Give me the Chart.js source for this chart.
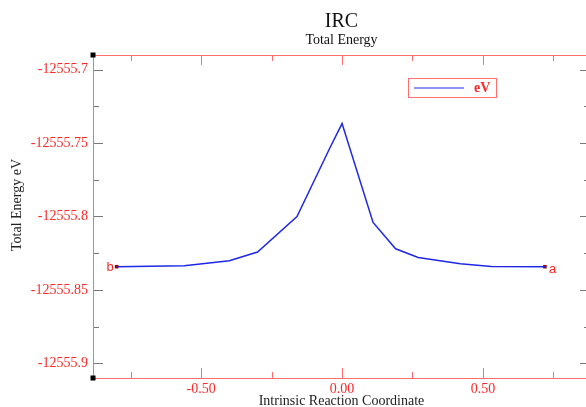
<!DOCTYPE html>
<html>
<head>
<meta charset="utf-8">
<script src="https://cdn.jsdelivr.net/npm/chart.js@4/dist/chart.umd.min.js"></script>
<style>
  html, body { margin: 0; padding: 0; background: #fff; overflow: hidden; }
  canvas { display: block; }
</style>
</head>
<body>
<canvas id="ircChart" width="600" height="407"></canvas>
<script>
// IRC path
const irc = [-0.80, -0.56, -0.40, -0.30, -0.16, -0.04, 0.00, 0.11, 0.19, 0.27, 0.42, 0.53, 0.72];
const energy = [-12555.8342, -12555.8336, -12555.8301, -12555.8242, -12555.8000, -12555.7520,
                -12555.7367, -12555.8040, -12555.8220, -12555.8279, -12555.8322, -12555.8340, -12555.8342];

// axis ticks
const xTicks = [-0.5, 0, 0.5];
const xTickLabels = ['-0.50', '0.00', '0.50'];
const xMinorTicks = [-0.75, -0.25, 0.25, 0.75];
const yTicks = [-12555.9, -12555.85, -12555.8, -12555.75, -12555.7];
const yTickLabels = ['-12555.9', '-12555.85', '-12555.8', '-12555.75', '-12555.7'];
const yMinorTicks = [-12555.875, -12555.825, -12555.775, -12555.725];

// end point names
const endLabels = ['b', 'a'];

const RED = 'rgb(255, 40, 40)';
const FRAME = 'rgb(255, 110, 110)';
const serif = '"Liberation Serif", "Times New Roman", serif';

const pathPoints = irc.map((x, i) => ({ x: x, y: energy[i] }));
const endPoints = [pathPoints[0], pathPoints[pathPoints.length - 1]];

// Draws the xmgrace style frame, ticks, titles and legend
const framePlugin = {
    id: 'frame',
    afterDraw(chart) {
        const ctx = chart.ctx;
        const area = chart.chartArea;
        const xs = chart.scales.x;
        const ys = chart.scales.y;
        ctx.save();

        // tick marks
        ctx.lineWidth = 1;
        ctx.strokeStyle = 'rgb(120, 120, 120)';
        ctx.beginPath();
        yTicks.forEach(v => {
            const y = Math.round(ys.getPixelForValue(v)) + 0.5;
            ctx.moveTo(area.left, y); ctx.lineTo(area.left + 10, y);
            ctx.moveTo(area.right, y); ctx.lineTo(area.right - 10, y);
        });
        yMinorTicks.forEach(v => {
            const y = Math.round(ys.getPixelForValue(v)) + 0.5;
            ctx.moveTo(area.left, y); ctx.lineTo(area.left + 6, y);
            ctx.moveTo(area.right, y); ctx.lineTo(area.right - 6, y);
        });
        ctx.stroke();

        ctx.strokeStyle = FRAME;
        ctx.beginPath();
        xTicks.forEach(v => {
            const x = Math.round(xs.getPixelForValue(v)) + 0.5;
            ctx.moveTo(x, area.top); ctx.lineTo(x, area.top + 10);
            ctx.moveTo(x, area.bottom); ctx.lineTo(x, area.bottom - 10);
        });
        xMinorTicks.forEach(v => {
            const x = Math.round(xs.getPixelForValue(v)) + 0.5;
            ctx.moveTo(x, area.top); ctx.lineTo(x, area.top + 6);
            ctx.moveTo(x, area.bottom); ctx.lineTo(x, area.bottom - 6);
        });
        // frame
        const l = Math.round(area.left) + 0.5, t = Math.round(area.top) + 0.5;
        const r = Math.round(area.right) + 0.5, b = Math.round(area.bottom) + 0.5;
        ctx.rect(l, t, r - l, b - t);
        ctx.stroke();

        // black corner markers
        ctx.fillStyle = '#000';
        ctx.fillRect(l - 3, t - 3, 5, 5);
        ctx.fillRect(l - 3, b - 3, 5, 5);

        // titles
        const cx = (area.left + area.right) / 2;
        ctx.fillStyle = '#111';
        ctx.textAlign = 'center';
        ctx.textBaseline = 'middle';
        ctx.font = '20px ' + serif;
        ctx.fillText('IRC', cx, 22);
        ctx.font = '14px ' + serif;
        ctx.fillText('Total Energy', cx, 40);
        ctx.fillStyle = '#222';
        ctx.fillText('Intrinsic Reaction Coordinate', cx, 401);
        ctx.save();
        ctx.translate(17, 205);
        ctx.rotate(-Math.PI / 2);
        ctx.fillText('Total Energy eV', 0, 0);
        ctx.restore();

        // legend box
        const ds = chart.data.datasets[0];
        ctx.strokeStyle = FRAME;
        ctx.strokeRect(408.5, 78.5, 88, 19);
        ctx.strokeStyle = ds.borderColor;
        ctx.lineWidth = 1.2;
        ctx.beginPath();
        ctx.moveTo(414, 88); ctx.lineTo(464, 88);
        ctx.stroke();
        ctx.fillStyle = RED;
        ctx.textAlign = 'left';
        ctx.font = 'bold 14px ' + serif;
        ctx.fillText(ds.label, 474, 88);

        // end point names
        const meta = chart.getDatasetMeta(1);
        ctx.font = '13px "Liberation Sans", Arial, sans-serif';
        ctx.fillStyle = RED;
        ctx.textAlign = 'right';
        ctx.fillText(endLabels[0], meta.data[0].x - 3, meta.data[0].y + 1);
        ctx.textAlign = 'left';
        ctx.fillText(endLabels[1], meta.data[1].x + 4, meta.data[1].y + 3);

        ctx.restore();
    }
};

new Chart(document.getElementById('ircChart'), {
    type: 'scatter',
    data: {
        datasets: [{
            label: 'eV',
            data: pathPoints,
            showLine: true,
            borderColor: 'rgb(30, 40, 230)',
            borderWidth: 1.5,
            pointRadius: 0,
            tension: 0
        }, {
            label: 'ends',
            data: endPoints,
            showLine: false,
            pointStyle: 'rect',
            pointRadius: 2.5,
            backgroundColor: 'rgb(150, 0, 0)',
            borderColor: 'rgb(150, 0, 0)',
            borderWidth: 0
        }]
    },
    options: {
        responsive: false,
        animation: false,
        devicePixelRatio: 1,
        layout: { padding: { top: 55, left: 0, right: 10, bottom: 0 } },
        plugins: {
            legend: { display: false },
            tooltip: { enabled: false }
        },
        scales: {
            x: {
                type: 'linear',
                min: -0.884,
                max: 0.88,
                grid: { display: false, drawTicks: false },
                border: { display: false },
                afterBuildTicks: s => { s.ticks = xTicks.map(v => ({ value: v })); },
                afterFit: s => { s.height = 29; },
                ticks: {
                    autoSkip: false,
                    maxRotation: 0,
                    padding: 3,
                    color: RED,
                    font: { family: serif, size: 14 },
                    callback: (v, i) => xTickLabels[i]
                }
            },
            y: {
                type: 'linear',
                min: -12555.91,
                max: -12555.69,
                grid: { display: false, drawTicks: false },
                border: { display: false },
                afterBuildTicks: s => { s.ticks = yTicks.map(v => ({ value: v })); },
                afterFit: s => { s.width = 93; },
                ticks: {
                    autoSkip: false,
                    padding: 5,
                    color: RED,
                    font: { family: serif, size: 14 },
                    callback: (v, i) => yTickLabels[i]
                }
            }
        }
    },
    plugins: [framePlugin]
});
</script>
</body>
</html>
